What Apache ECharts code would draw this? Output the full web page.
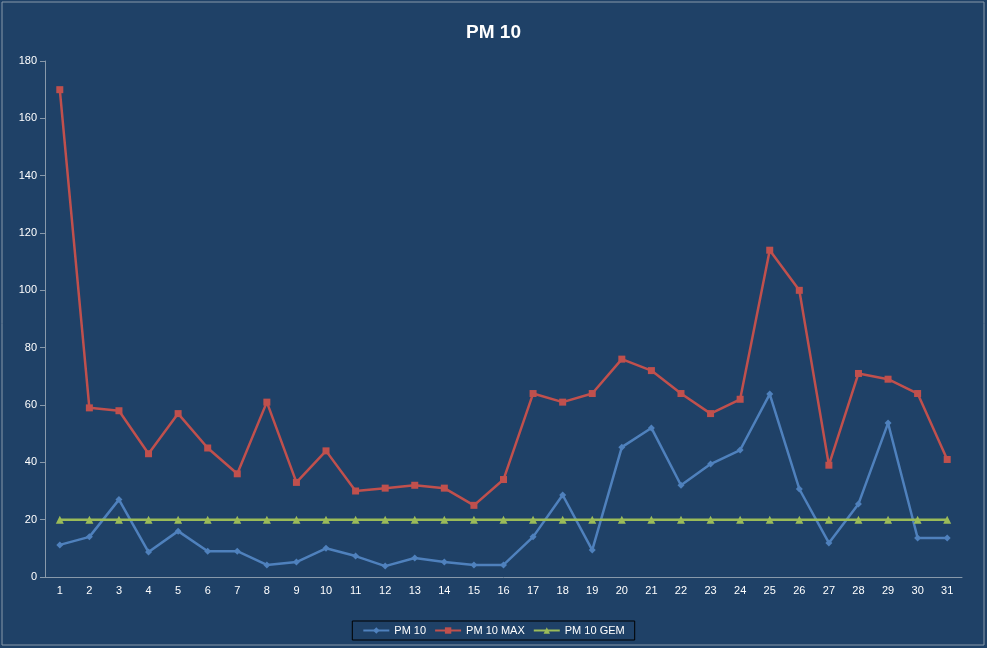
<!DOCTYPE html>
<html><head><meta charset="utf-8">
<script src="https://cdn.jsdelivr.net/npm/echarts@6/dist/echarts.min.js"></script>
<style>html,body{margin:0;padding:0;background:#fff}#c{width:987px;height:648px}</style>
</head><body><div id="c"></div>
<script>
const categories = Array.from({length:31},(_,i)=>String(i+1));
const pm10 = [11.2,14,27,8.7,16,9,9,4.2,5.2,10,7.3,3.8,6.6,5.2,4.2,4.2,14,28.6,9.4,45.3,52,32,39.4,44.3,63.8,30.7,11.9,25.5,53.7,13.6,13.6];
const pm10Max = [170,59,58,43,57,45,36,61,33,44,30,31,32,31,25,34,64,61,64,76,72,64,57,62,114,100,39,71,69,64,41];
const pm10Gem = Array(31).fill(20);
const yTicks = {min:0,max:180,interval:20};
const chart = echarts.init(document.getElementById('c'));
chart.setOption({
  backgroundColor:'#1F4167',
  graphic:[{type:'rect',shape:{x:2,y:2,width:982,height:643},style:{fill:'none',stroke:'#8899aa',lineWidth:1}}],
  title:{text:'PM 10',left:'center',top:18,textStyle:{color:'#fff',fontSize:19,fontWeight:'bold',fontFamily:'Liberation Sans'}},
  grid:{left:45,right:25,top:61,bottom:71},
  legend:{bottom:8,itemWidth:26,itemHeight:8,borderColor:'#000',borderWidth:1,padding:[4,10],
    textStyle:{color:'#fff',fontSize:11,fontFamily:'Liberation Sans'}},
  xAxis:{type:'category',data:categories,boundaryGap:true,
    axisLine:{lineStyle:{color:'#8899aa'}},axisTick:{lineStyle:{color:'#8899aa'},interval:0},
    axisLabel:{color:'#fff',fontSize:11,interval:0,fontFamily:'Liberation Sans'}},
  yAxis:{type:'value',...yTicks,splitLine:{show:false},
    axisLine:{show:true,lineStyle:{color:'#8899aa'}},axisTick:{show:true,lineStyle:{color:'#8899aa'}},
    axisLabel:{color:'#fff',fontSize:11,fontFamily:'Liberation Sans'}},
  series:[
    {name:'PM 10',type:'line',data:pm10,color:'#4F81BD',symbol:'diamond',symbolSize:7,lineStyle:{width:2.5}},
    {name:'PM 10 MAX',type:'line',data:pm10Max,color:'#C0504D',symbol:'rect',symbolSize:7,lineStyle:{width:2.5}},
    {name:'PM 10 GEM',type:'line',data:pm10Gem,color:'#9BBB59',symbol:'triangle',symbolSize:8,lineStyle:{width:2.5}}
  ]
});
</script></body></html>
